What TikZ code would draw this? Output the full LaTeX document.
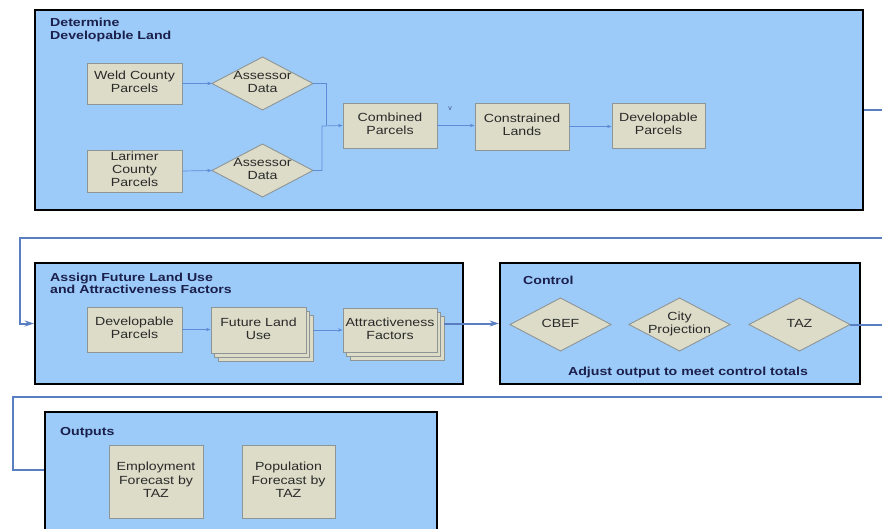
\documentclass[tikz,border=0pt]{standalone}
\usepackage{fontspec}
\setmainfont{Liberation Sans}
\usepackage{graphicx}
\usetikzlibrary{arrows.meta}
\definecolor{panelfill}{HTML}{9CCBF9}
\definecolor{boxfill}{HTML}{DCDCC8}
\definecolor{boxline}{HTML}{8E9595}
\definecolor{linkblue}{HTML}{5A7EC2}
\definecolor{flowblue}{HTML}{5F8CD6}
\definecolor{titlecol}{HTML}{1B1F4B}
\definecolor{txtcol}{HTML}{2A2A2A}
\newcommand\wtxt[1]{\scalebox{1.2}[1]{\begin{tabular}{@{}c@{}}#1\end{tabular}}}
\newcommand\ttl[1]{\scalebox{1.22}[1]{\begin{tabular}[t]{@{}l@{}}#1\end{tabular}}}
\tikzset{
  panel/.style={draw=black, line width=2.4pt, fill=panelfill, rectangle, inner sep=0pt},
  box/.style={draw=boxline, line width=0.9pt, fill=boxfill, rectangle, inner sep=0pt,
    text=txtcol, font=\fontsize{11.8}{13.3}\selectfont},
  diamline/.style={draw=boxline, line width=0.9pt, fill=boxfill},
  diamtext/.style={rectangle, inner sep=0pt, minimum width=101pt, minimum height=53pt,
    text=txtcol, font=\fontsize{11.8}{13.3}\selectfont},
  flow/.style={draw=flowblue, line width=0.7pt},
  arr/.style={-{Stealth[length=4.5pt,width=3.5pt]}},
  link/.style={draw=linkblue, line width=2pt},
  linkarr/.style={-{Stealth[length=9pt,width=6pt]}},
  ttlstyle/.style={text=titlecol, font=\bfseries\fontsize{11.6}{12.9}\selectfont, inner sep=0pt}
}
% diamond: name, centre, text
\newcommand\dnode[3]{%
  \draw[diamline] (#2) +(-50.5,0) -- +(0,-26.5) -- +(50.5,0) -- +(0,26.5) -- cycle;
  \node[diamtext] (#1) at (#2) {\wtxt{#3}};}
% stacked box: name, centre, width, height, text
\newcommand\stk[5]{%
  \node[box, minimum width=#3, minimum height=#4, xshift=7pt, yshift=-8pt] (#1c) at (#2) {};
  \node[box, minimum width=#3, minimum height=#4, xshift=3.5pt, yshift=-4pt] (#1b) at (#2) {};
  \node[box, minimum width=#3, minimum height=#4] (#1) at (#2) {\wtxt{#5}};}
\begin{document}
\begin{tikzpicture}[x=1pt,y=-1pt]
\useasboundingbox (0,0) rectangle (882,529);
\clip (0,0) rectangle (882,529);
\fill[white] (0,0) rectangle (882,529);

% ---------- panels ----------
\node[panel, minimum width=828pt, minimum height=200pt] (p1) at (449,110) {};
\node[panel, minimum width=428pt, minimum height=121pt] (p2) at (249,323.5) {};
\node[panel, minimum width=360pt, minimum height=121pt] (p3) at (680,323.5) {};
\node[panel, minimum width=392pt, minimum height=122pt] (p4) at (241,473) {};

% ---------- titles ----------
\node[ttlstyle, anchor=base west] (t1) at (50,27) {\ttl{Determine\\Developable Land}};
\node[ttlstyle, anchor=base west] (t2) at (50,281) {\ttl{Assign Future Land Use\\and Attractiveness Factors}};
\node[ttlstyle, anchor=base west] (t3) at (523,284) {\ttl{Control}};
\node[ttlstyle, anchor=base west] (t4) at (60,435) {\ttl{Outputs}};
\node[ttlstyle, anchor=base] (adj) at (688,375) {\ttl{Adjust output to meet control totals}};

% ---------- panel 1 ----------
\node[box, minimum width=95pt, minimum height=41pt] (weld) at (134.5,83.5) {\wtxt{Weld County\\Parcels}};
\node[box, minimum width=95pt, minimum height=42pt] (lar) at (134.5,171) {\wtxt{Larimer\\County\\Parcels}};
\dnode{ad1}{262.5,83.5}{Assessor\\Data}
\dnode{ad2}{262.5,170.5}{Assessor\\Data}
\node[box, minimum width=94pt, minimum height=45pt] (comb) at (390,125.5) {\wtxt{Combined\\Parcels}};
\node[box, minimum width=94pt, minimum height=47pt] (cons) at (522,126.5) {\wtxt{Constrained\\Lands}};
\node[box, minimum width=93pt, minimum height=45pt] (dev1) at (658.5,125.5) {\wtxt{Developable\\Parcels}};
\node[text=flowblue!60!black, font=\fontsize{7}{8}\selectfont, inner sep=0pt] (vmark) at (450,109) {v};

\coordinate (j1) at (326,126);
\coordinate (j2) at (322,126);
\draw[flow,arr] (weld.east) -- (ad1.west);
\draw[flow,arr] (lar.east) -- (ad2.west);
\draw[flow] (ad1.east) -| (j1);
\draw[flow,arr] (ad2.east) -| (j2) -- (comb.west);
\draw[flow,arr] (comb.east) -- (cons.west |- comb.east);
\draw[flow,arr] (cons.east) -- (dev1.west |- cons.east);

% ---------- panel 2 ----------
\node[box, minimum width=95pt, minimum height=45pt] (dev2) at (134.5,329.5) {\wtxt{Developable\\Parcels}};
\stk{flu}{258.5,330}{95pt}{46pt}{Future Land\\Use}
\stk{af}{390,330}{94pt}{44pt}{Attractiveness\\Factors}
\draw[flow,arr] (dev2.east) -- (flu.west |- dev2.east);
\draw[flow,arr] (flu.east -| fluc.east) -- (af.west |- flu.east);

% ---------- panel 3 ----------
\dnode{cbef}{560.5,324.5}{CBEF}
\dnode{city}{679.5,324.5}{City\\Projection}
\dnode{taz}{799.5,324.5}{TAZ}

% ---------- panel 4 ----------
\node[box, minimum width=94pt, minimum height=73pt] (emp) at (156,481.5) {\wtxt{Employment\\Forecast by\\TAZ}};
\node[box, minimum width=93pt, minimum height=73pt] (pop) at (288.5,481.5) {\wtxt{Population\\Forecast by\\TAZ}};

% ---------- links between panels ----------
\coordinate (r1) at (882,110);
\coordinate (r2) at (882,238);
\coordinate (l2) at (20,323.5);
\coordinate (r4) at (882,324.5);
\coordinate (r5) at (882,397);
\coordinate (l5) at (13,470);
\draw[link] (p1.east) -- (r1);
\draw[link,linkarr] (r2) -| (l2) -- (p2.west);
\draw[link,linkarr] (afc.east |- p3.west) -- (p3.west);
\draw[link] (taz.east) -- (r4);
\draw[link] (r5) -| (l5) -- (l5 -| p4.west);
\end{tikzpicture}
\end{document}
